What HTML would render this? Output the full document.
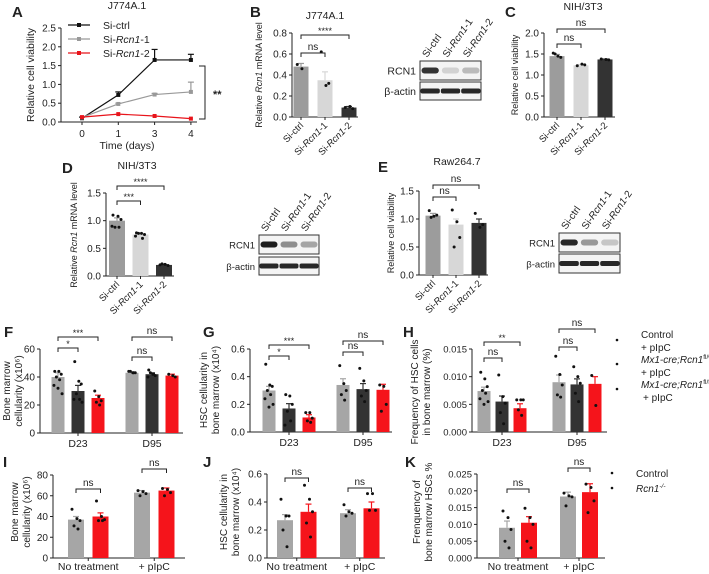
<!DOCTYPE html>
<html><head><meta charset="utf-8"><style>
html,body{margin:0;padding:0;background:#fff;}
svg{display:block;font-family:"Liberation Sans",Arial,sans-serif;}
</style></head><body>
<svg id="fig" width="709" height="574" viewBox="0 0 709 574" xmlns="http://www.w3.org/2000/svg"></svg>
<script>
// ---------- DATA ----------
const aDays=['0','1','3','4'];
const aCtrl=[0.1,0.72,1.65,1.65];
const aCtrlErr=[0.03,0.08,0.28,0.15];
const aR1=[0.12,0.48,0.73,0.8];
const aR1Err=[0.0,0.02,0.03,0.26];
const aR2=[0.13,0.21,0.16,0.09];
const aR2Err=[0.0,0.0,0.0,0.0];
const aTicks=[0,0.5,1,1.5,2,2.5];
const aTickLabels=['0.0','0.5','1.0','1.5','2.0','2.5'];

const siCats=['Si-ctrl','Si-Rcn1-1','Si-Rcn1-2'];
const bValues=[0.48,0.35,0.09];
const bErr=[0.03,0.08,0.01];
const bDots=[[0.5,0.46],[0.62,0.3,0.32],[0.09,0.1,0.08]];
const bTicks=[0,0.2,0.4,0.6,0.8];
const bTickLabels=['0.0','0.2','0.4','0.6','0.8'];

const cValues=[1.45,1.23,1.37];
const cErr=[0.04,0.02,0.01];
const cDots=[[1.52,1.45,1.42,1.5],[1.22,1.26,1.24],[1.38,1.37,1.36]];
const cTicks=[0,0.5,1,1.5,2];
const cTickLabels=['0.0','0.5','1.0','1.5','2.0'];

const dValues=[1.0,0.75,0.2];
const dErr=[0.05,0.02,0.01];
const dDots=[[1.1,1.08,1.02,0.88,0.88,0.9],[0.78,0.77,0.75,0.77,0.68,0.72],[0.2,0.21,0.19,0.22]];
const dTicks=[0,0.5,1,1.5];
const dTickLabels=['0.0','0.5','1.0','1.5'];

const eValues=[1.06,0.9,0.93];
const eErr=[0.04,0.1,0.07];
const eDots=[[1.15,1.05,1.07,1.03],[1.16,0.95,0.67,0.5],[1.1,0.85,0.9]];
const eTicks=[0,0.5,1,1.5];
const eTickLabels=['0.0','0.5','1.0','1.5'];

const fghGroups=['D23','D95'];
const fValues=[[40,30,25],[43,42,41]];
const fErr=[[3,4,2],[0.6,1,1]];
const fDots=[[[44,44,42,40,38,34,28,32],[51,37,35,28,24,24,22],[30,26,23,22,20]],[[44,43,43,44,43],[45,42,41,43,42,40],[42,41,40]]];
const fTicks=[0,20,40,60];
const fTickLabels=['0','20','40','60'];

const gValues=[[0.30,0.17,0.105],[0.34,0.31,0.305]];
const gErr=[[0.03,0.035,0.02],[0.045,0.04,0.04]];
const gDots=[[[0.49,0.34,0.33,0.3,0.27,0.24,0.2,0.18],[0.27,0.26,0.2,0.15,0.08,0.05],[0.14,0.14,0.1,0.08,0.07]],[[0.48,0.35,0.3,0.27,0.23],[0.46,0.37,0.3,0.26,0.22],[0.34,0.33,0.2,0.15]]];
const gTicks=[0,0.2,0.4,0.6];
const gTickLabels=['0.0','0.2','0.4','0.6'];

const hValues=[[0.0074,0.0055,0.0043],[0.009,0.0086,0.0087]];
const hErr=[[0.0007,0.001,0.0008],[0.0013,0.001,0.0013]];
const hDots=[[[0.0108,0.0096,0.0082,0.0075,0.007,0.006,0.0055,0.005],[0.0103,0.0064,0.0052,0.0035,0.0015],[0.0058,0.0058,0.0058,0.004,0.003]],[[0.0137,0.0104,0.0085,0.0067,0.0063],[0.0118,0.01,0.0088,0.007,0.0055],[0.0102,0.0048]]];
const hTicks=[0,0.005,0.01,0.015];
const hTickLabels=['0.000','0.005','0.010','0.015'];

const ijkGroups=['No treatment','+ pIpC'];
const iValues=[[37,40],[63,65]];
const iErr=[[3,3.5],[2,2.5]];
const iDots=[[[47,38,36,31,28],[55,40,37,36,36]],[[65,64,62,60],[67,66,63,60]]];
const iTicks=[0,20,40,60,80];
const iTickLabels=['0','20','40','60','80'];

const jValues=[[0.27,0.33],[0.32,0.355]];
const jErr=[[0.04,0.055],[0.025,0.045]];
const jDots=[[[0.42,0.3,0.3,0.2,0.08],[0.52,0.42,0.33,0.25,0.15]],[[0.38,0.33,0.32,0.3],[0.46,0.46,0.34,0.34]]];
const jTicks=[0,0.2,0.4,0.6];
const jTickLabels=['0.0','0.2','0.4','0.6'];

const kValues=[[0.009,0.0105],[0.0183,0.0196]];
const kErr=[[0.002,0.0018],[0.0013,0.0025]];
const kDots=[[[0.014,0.012,0.0085,0.005,0.003],[0.0148,0.012,0.01,0.005,0.003]],[[0.0193,0.0185,0.0182,0.0155],[0.022,0.021,0.017,0.0135]]];
const kTicks=[0,0.005,0.01,0.015,0.02,0.025];
const kTickLabels=['0.000','0.005','0.010','0.015','0.020','0.025'];

// ---------- DRAWING ----------
const NS='http://www.w3.org/2000/svg';
const S=document.getElementById('fig');
function el(t,a,txt){const e=document.createElementNS(NS,t);for(const k in a)e.setAttribute(k,a[k]);if(txt!=null)e.textContent=txt;S.appendChild(e);return e;}
function ys(p,v){return p.yBot-(v/p.max)*(p.yBot-p.yTop);}

function axes(p,ticks,labels,key){
  const ya=el('line',{x1:p.ax,y1:p.yTop,x2:p.ax,y2:p.yBot,stroke:'#222','stroke-width':1});
  
  
  const xa=el('line',{x1:p.ax,y1:p.yBot,x2:p.xEnd,y2:p.yBot,stroke:'#222','stroke-width':1});
  
  
  ticks.forEach((t,i)=>{
    const y=ys(p,t);
    el('line',{x1:p.ax-3,y1:y,x2:p.ax,y2:y,stroke:'#222','stroke-width':1});
    const tl=el('text',{x:p.ax-5,y:y+3.5,'font-size':p.fs||10,'text-anchor':'end',fill:'#222'},labels[i]);
    
    
  });
}
const jit=[-4,1,4,-2,2,-5,5,0];
function bar(p,cx,w,v,err,dots,col,ecol,key){
  const y=ys(p,v);
  const r=el('rect',{x:cx-w/2,y:y,width:w,height:p.yBot-y,fill:col});
  
  
  if(err>0){const ye=ys(p,v+err);
    el('line',{x1:cx,y1:y,x2:cx,y2:ye,stroke:ecol,'stroke-width':1.2});
    el('line',{x1:cx-3,y1:ye,x2:cx+3,y2:ye,stroke:ecol,'stroke-width':1.2});}
  dots.forEach((d,i)=>{const c=el('circle',{cx:cx+jit[i%8]*w/16,cy:ys(p,d),r:1.5,fill:'#111'});
    
    });
}
function bracket(x1,x2,y,label,key){
  const b=el('path',{d:`M${x1},${y+4}V${y}H${x2}V${y+4}`,fill:'none',stroke:'#222','stroke-width':1});
  
  
  const t=el('text',{x:(x1+x2)/2,y:label.indexOf('*')>=0?y-1:y-3,'font-size':label.indexOf('*')>=0?9:10,'text-anchor':'middle',fill:'#222'},label);
  
  
}
function txt(x,y,s,o,name){const t=el('text',Object.assign({x:x,y:y,'font-size':10,fill:'#222'},o||{}));t.innerHTML=s;
  
  return t;}
function ylab(x,yc,s,name,fs){return txt(x,yc,s,{'text-anchor':'middle',transform:`rotate(-90 ${x} ${yc})`,'font-size':fs||9.5},name);}
function rotLabels(p,cxs,key){siCats.forEach((c,i)=>{const x=cxs[i]+3,y=p.yBot+9;
  const s=c==='Si-ctrl'?'Si-ctrl':'Si-<tspan font-style="italic">Rcn1</tspan>'+c.slice(7);
  txt(x,y,s,{'text-anchor':'end','font-size':9.5,transform:`rotate(-45 ${x} ${y})`},key+'-x-tick-label');});}
function letter(x,y,s){txt(x,y,s,{'font-size':15,'font-weight':'bold'},'panel-label-'+s.toLowerCase());}

// ---- Panel A (line chart)
(function(){
  const p={ax:61,xEnd:197,yTop:28,yBot:122,max:2.5};
  axes(p,aTicks,aTickLabels,'a');
  const xs=i=>82+i*36.3;
  aDays.forEach((d,i)=>{el('line',{x1:xs(i),y1:p.yBot,x2:xs(i),y2:p.yBot+3,stroke:'#222'});
    txt(xs(i),p.yBot+15,d,{'text-anchor':'middle'},'a-x-tick-label');});
  const series=[[aCtrl,aCtrlErr,'#111','ctrl'],[aR1,aR1Err,'#999','rcn1-1'],[aR2,aR2Err,'#e8141b','rcn1-2']];
  series.forEach(([v,e,c,n])=>{
    const pts=v.map((d,i)=>xs(i)+','+ys(p,d)).join(' ');
    const l=el('polyline',{points:pts,fill:'none',stroke:c,'stroke-width':1.2});
    
    
    v.forEach((d,i)=>{
      if(e[i]>0){el('line',{x1:xs(i),y1:ys(p,d),x2:xs(i),y2:ys(p,d+e[i]),stroke:c,'stroke-width':1.2});
        el('line',{x1:xs(i)-3,y1:ys(p,d+e[i]),x2:xs(i)+3,y2:ys(p,d+e[i]),stroke:c,'stroke-width':1.2});}
      const m=el('rect',{x:xs(i)-2,y:ys(p,d)-2,width:4,height:4,fill:c});
      
      
    });
  });
  const leg=[['#111','Si-ctrl',25],['#999','Si-<tspan font-style="italic">Rcn1</tspan>-1',39],['#e8141b','Si-<tspan font-style="italic">Rcn1</tspan>-2',53]];
  leg.forEach(([c,s,y])=>{el('line',{x1:68,y1:y,x2:90,y2:y,stroke:c,'stroke-width':1.2});
    el('rect',{x:77,y:y-2,width:4,height:4,fill:c});
    txt(103,y+4,s,{'font-size':10.5},'a-legend-entry');});
  el('path',{d:'M199,66H205V119H199',fill:'none',stroke:'#222'});
  txt(213,98,'**',{'font-size':11,'font-weight':'bold'},'a-significance-label');
  txt(127,9,'J774A.1',{'text-anchor':'middle','font-size':10.5},'a-title');
  txt(127,149,'Time (days)',{'text-anchor':'middle','font-size':10.5},'a-x-axis-title');
  ylab(34,75,'Relative cell viability','a-y-axis-title',10.5);
  letter(12,17,'A');
})();

// ---- simple 3-bar panels
const cols3=['#9c9c9c','#d7d7d7','#333333'];
function panel3(key,p,vals,errs,dots,ticks,labels,c0,step,w){
  axes(p,ticks,labels,key);
  const cxs=vals.map((v,i)=>c0+i*step);
  vals.forEach((v,i)=>{bar(p,cxs[i],w,v,errs[i],dots[i],cols3[i],cols3[i],key);
    el('line',{x1:cxs[i],y1:p.yBot,x2:cxs[i],y2:p.yBot+3,stroke:'#222'});});
  rotLabels(p,cxs,key);
  return cxs;
}
// B
let cx=panel3('b',{ax:292,xEnd:358,yTop:33,yBot:117,max:0.8},bValues,bErr,bDots,bTicks,bTickLabels,301,24,15);
bracket(cx[0],cx[2],35,'****','b');bracket(cx[0],cx[1],53,'ns','b');
txt(325,19,'J774A.1',{'text-anchor':'middle','font-size':10.5},'b-title');
ylab(262,75,'Relative <tspan font-style="italic">Rcn1</tspan> mRNA level','b-y-axis-title',9);
letter(250,17,'B');
// C
cx=panel3('c',{ax:544,xEnd:615,yTop:33,yBot:117,max:2.0},cValues,cErr,cDots,cTicks,cTickLabels,557,24,15);
bracket(cx[0],cx[2],29,'ns','c');bracket(cx[0],cx[1],44,'ns','c');
txt(583,10,'NIH/3T3',{'text-anchor':'middle','font-size':10.5},'c-title');
ylab(518,75,'Relative cell viability','c-y-axis-title',9);
letter(505,17,'C');
// D
cx=panel3('d',{ax:106,xEnd:174,yTop:193,yBot:276,max:1.5},dValues,dErr,dDots,dTicks,dTickLabels,117,23.5,16);
bracket(cx[0],cx[2],186,'****','d');bracket(cx[0],cx[1],201,'***','d');
txt(137,169,'NIH/3T3',{'text-anchor':'middle','font-size':10.5},'d-title');
ylab(77,235,'Relative <tspan font-style="italic">Rcn1</tspan> mRNA level','d-y-axis-title',9);
letter(62,173,'D');
// E
cx=panel3('e',{ax:419,xEnd:488,yTop:191,yBot:275,max:1.5},eValues,eErr,eDots,eTicks,eTickLabels,433,23,15);
bracket(cx[0],cx[2],185,'ns','e');bracket(cx[0],cx[1],197,'ns','e');
txt(457,165,'Raw264.7',{'text-anchor':'middle','font-size':10.5},'e-title');
ylab(394,233,'Relative cell viability','e-y-axis-title',9);
letter(378,172,'E');

// ---- Western blots
function blot(key,x0,x1,r1,r2,lbl,rcn){
  const lanes=[0,1,2].map(i=>x0+(x1-x0)*(i+0.5)/3);
  const b1=el('rect',{x:x0,y:r1[0],width:x1-x0,height:r1[1]-r1[0],fill:'#f4f4f4',stroke:'#333','stroke-width':1});
  
  
  const b2=el('rect',{x:x0,y:r2[0],width:x1-x0,height:r2[1]-r2[0],fill:'#f4f4f4',stroke:'#333','stroke-width':1});
  
  
  const bw=(x1-x0)/3-3;
  lanes.forEach((lx,i)=>{
    el('rect',{x:lx-bw/2,y:(r1[0]+r1[1])/2-3,width:bw,height:6,rx:3,fill:'#111',opacity:rcn[i]});
    el('rect',{x:lx-bw/2-1,y:(r2[0]+r2[1])/2-2.5,width:bw+2,height:5,rx:2,fill:'#111',opacity:0.9});
    const s=i===0?'Si-ctrl':'Si-<tspan font-style="italic">Rcn1</tspan>-'+i;
    const tx=lx-3,ty=r1[0]-3;
    txt(tx,ty,s,{'font-size':10,transform:`rotate(-55 ${tx} ${ty})`},key+'-lane-label');
  });
  txt(x0-4,(r1[0]+r1[1])/2+4,'RCN1',{'text-anchor':'end','font-size':lbl},key+'-rcn1-label');
  txt(x0-4,(r2[0]+r2[1])/2+4,'β-actin',{'text-anchor':'end','font-size':lbl},key+'-actin-label');
}
blot('b',420,481,[61,80],[82,100],10.5,[0.85,0.15,0.25]);
blot('d',259,319,[235,254],[257,275],9.5,[0.95,0.45,0.35]);
blot('e',559,620,[233,252],[254,273],9.5,[0.9,0.4,0.2]);

// ---- grouped panels
const gcols3=['#a6a6a6','#333333','#f5141b'];
function grouped(key,p,vals,errs,dots,ticks,labels,starts,step,w,groups,cols,ly){
  axes(p,ticks,labels,key);
  const cxs=[];
  vals.forEach((g,gi)=>{const row=[];g.forEach((v,j)=>{const c=starts[gi]+j*step;row.push(c);
      bar(p,c,w,v,errs[gi][j],dots[gi][j],cols[j],cols[j],key);});
    cxs.push(row);
    const mid=(row[0]+row[row.length-1])/2;
    el('line',{x1:mid,y1:p.yBot,x2:mid,y2:p.yBot+3,stroke:'#222'});
    txt(mid,ly,groups[gi],{'text-anchor':'middle','font-size':10.5},key+'-x-tick-label');});
  return cxs;
}
let g=grouped('f',{ax:40,xEnd:183,yTop:349,yBot:433,max:60},fValues,fErr,fDots,fTicks,fTickLabels,[58,132],20,13,fghGroups,gcols3,447);
bracket(g[0][0],g[0][2],337,'***','f');bracket(g[0][0],g[0][1],348,'*','f');
bracket(g[1][0],g[1][2],337,'ns','f');bracket(g[1][0],g[1][1],357,'ns','f');
ylab(10,391,'Bone marrow','f-y-axis-title',10);ylab(22,391,'cellularity (x10⁶)','f-y-axis-title-2',10);
letter(4,337,'F');

g=grouped('g',{ax:250,xEnd:392,yTop:349,yBot:432,max:0.6},gValues,gErr,gDots,gTicks,gTickLabels,[269,343],20,13,fghGroups,gcols3,446);
bracket(g[0][0],g[0][2],345,'***','g');bracket(g[0][0],g[0][1],356,'*','g');
bracket(g[1][0],g[1][2],341,'ns','g');bracket(g[1][0],g[1][1],352,'ns','g');
ylab(207,390,'HSC cellularity in','g-y-axis-title',10);ylab(219,390,'bone marrow (x10⁴)','g-y-axis-title-2',10);
letter(203,337,'G');

g=grouped('h',{ax:472,xEnd:607,yTop:349,yBot:432,max:0.015,fs:9.5},hValues,hErr,hDots,hTicks,hTickLabels,[484,559],18,13,fghGroups,gcols3,446);
bracket(g[0][0],g[0][2],342,'**','h');bracket(g[0][0],g[0][1],358,'ns','h');
bracket(g[1][0],g[1][2],329,'ns','h');bracket(g[1][0],g[1][1],347,'ns','h');
ylab(418,392,'Frequency of HSC cells','h-y-axis-title',10);ylab(430,392,'in bone marrow (%)','h-y-axis-title-2',10);
letter(403,337,'H');
// legend F-H
[340,364,389].forEach(y=>{const d=el('circle',{cx:617,cy:y,r:1.3,fill:'#111'});
  
  });
txt(641,338,'Control',{'font-size':10},'legend-control');
txt(641,351,'+ pIpC',{'font-size':10},'legend-control-pipc');
txt(641,363,'<tspan font-style="italic">Mx1-cre;Rcn1</tspan><tspan font-size="6.5" dy="-4">fl/wt</tspan>',{'font-size':10},'legend-flwt');
txt(641,376,'+ pIpC',{'font-size':10},'legend-flwt-pipc');
txt(641,388,'<tspan font-style="italic">Mx1-cre;Rcn1</tspan><tspan font-size="6.5" dy="-4">fl/fl</tspan>',{'font-size':10},'legend-flfl');
txt(643,401,'+ pIpC',{'font-size':10},'legend-flfl-pipc');

const gcols2=['#a6a6a6','#f5141b'];
g=grouped('i',{ax:53,xEnd:185,yTop:475,yBot:558,max:80},iValues,iErr,iDots,iTicks,iTickLabels,[76,142],24.5,16,ijkGroups,gcols2,570);
bracket(g[0][0],g[0][1],489,'ns','i');bracket(g[1][0],g[1][1],469,'ns','i');
ylab(18,512,'Bone marrow','i-y-axis-title',10);ylab(30,512,'cellularity (x10⁶)','i-y-axis-title-2',10);
letter(3,467,'I');

g=grouped('j',{ax:267,xEnd:385,yTop:474,yBot:558,max:0.6},jValues,jErr,jDots,jTicks,jTickLabels,[285,348],23.5,16,ijkGroups,gcols2,570);
bracket(g[0][0],g[0][1],478,'ns','j');bracket(g[1][0],g[1][1],488,'ns','j');
ylab(227,512,'HSC cellularity in','j-y-axis-title',10);ylab(239,512,'bone marrow (x10⁴)','j-y-axis-title-2',10);
letter(203,467,'J');

g=grouped('k',{ax:477,xEnd:605,yTop:474,yBot:558,max:0.025,fs:9.5},kValues,kErr,kDots,kTicks,kTickLabels,[507,568],22,16,ijkGroups,gcols2,570);
bracket(g[0][0],g[0][1],489,'ns','k');bracket(g[1][0],g[1][1],468,'ns','k');
ylab(420,512,'Frenquency of','k-y-axis-title',10);ylab(432,512,'bone marrow HSCs %','k-y-axis-title-2',10);
letter(405,467,'K');
[473,488].forEach(y=>{const d=el('circle',{cx:612,cy:y,r:1.3,fill:'#111'});
  
  });
txt(636,477,'Control',{'font-size':10},'legend-control-ijk');
txt(636,492,'<tspan font-style="italic">Rcn1</tspan><tspan font-size="6.5" dy="-4" font-style="italic">-/-</tspan>',{'font-size':10},'legend-rcn1-ko');
</script>
</body></html>
